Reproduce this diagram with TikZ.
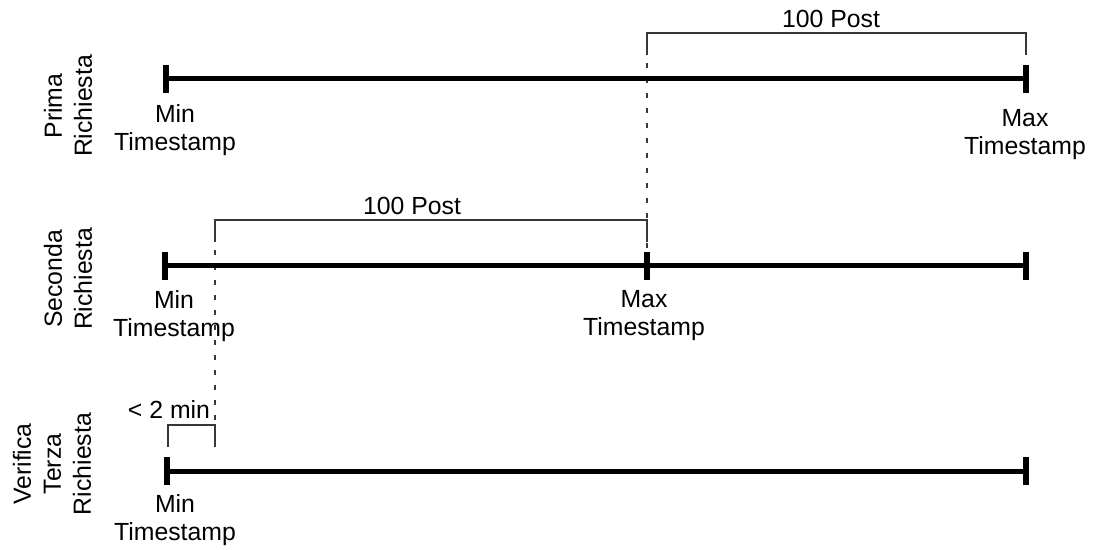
\documentclass[tikz,border=0pt]{standalone}
\usepackage{fontspec}
\setmainfont{Liberation Sans}
\usepackage{xcolor}
\definecolor{guide_gray}{RGB}{55,55,55}

\begin{document}
\begin{tikzpicture}[x=0.5pt, y=-0.5pt,
    every node/.style={font=\fontsize{12.4}{14}\selectfont, inner sep=0pt, align=center},
    rowlabel/.style={rotate=90, font=\fontsize{12.4}{15}\selectfont},
    axis/.style={line width=2.5pt},
    tickmark/.style={line width=3pt},
    bracket/.style={line width=0.7pt, draw=guide_gray},
    guide/.style={line width=0.7pt, draw=guide_gray, dash pattern=on 2.5pt off 5pt}]
  \useasboundingbox (0,0) rectangle (1097,550);

  % time axes
  \coordinate (min1) at (166,79);
  \coordinate (max1) at (1026,79);
  \coordinate (min2) at (165,266);
  \coordinate (max2) at (647,266);
  \coordinate (end2) at (1026,266);
  \coordinate (min3) at (167,471);
  \coordinate (end3) at (1026,471);

  % bracket corners
  \coordinate (top1a) at (647,33);
  \coordinate (top1b) at (1026,33);
  \coordinate (top2a) at (215,220);
  \coordinate (top2b) at (647,220);
  \coordinate (gap3a) at (168,425);
  \coordinate (gap3b) at (215,425);

  % dotted guides
  \draw[guide] (top1a) -- (max2);
  \draw[guide] (top2a) -- (gap3b);

  \draw[axis] (min1) -- (max1);
  \draw[axis] (min2) -- (end2);
  \draw[axis] (min3) -- (end3);
  \foreach \p in {min1, max1, min2, max2, end2, min3, end3}
    \draw[tickmark] (\p) ++(0,-14) -- ++(0,28);

  % brackets
  \draw[bracket] (top1a) ++(0,22) -- (top1a) -- (top1b) -- ++(0,22);
  \draw[bracket] (top2a) ++(0,22) -- (top2a) -- (top2b) -- ++(0,22);
  \draw[bracket] (gap3a) ++(0,22) -- (gap3a) -- (gap3b) -- ++(0,22);
  \node[anchor=base] (post1) at (831,28) {100 Post};
  \node[anchor=base] (post2) at (412,215) {100 Post};
  \node[anchor=base] (gap) at (169,418) {< 2 min};

  % timestamps
  \node[anchor=north] (minlab1) at (175,104) {Min\\Timestamp};
  \node[anchor=north] (maxlab1) at (1025,109) {Max\\Timestamp};
  \node[anchor=north] (minlab2) at (174,290) {Min\\Timestamp};
  \node[anchor=north] (maxlab2) at (644,290) {Max\\Timestamp};
  \node[anchor=north] (minlab3) at (175,494) {Min\\Timestamp};

  % row labels
  \node[rowlabel] (row1) at (68,106) {Prima\\Richiesta};
  \node[rowlabel] (row2) at (68,279) {Seconda\\Richiesta};
  \node[rowlabel] (row3) at (52,464) {Verifica\\Terza\\Richiesta};
\end{tikzpicture}
\end{document}
